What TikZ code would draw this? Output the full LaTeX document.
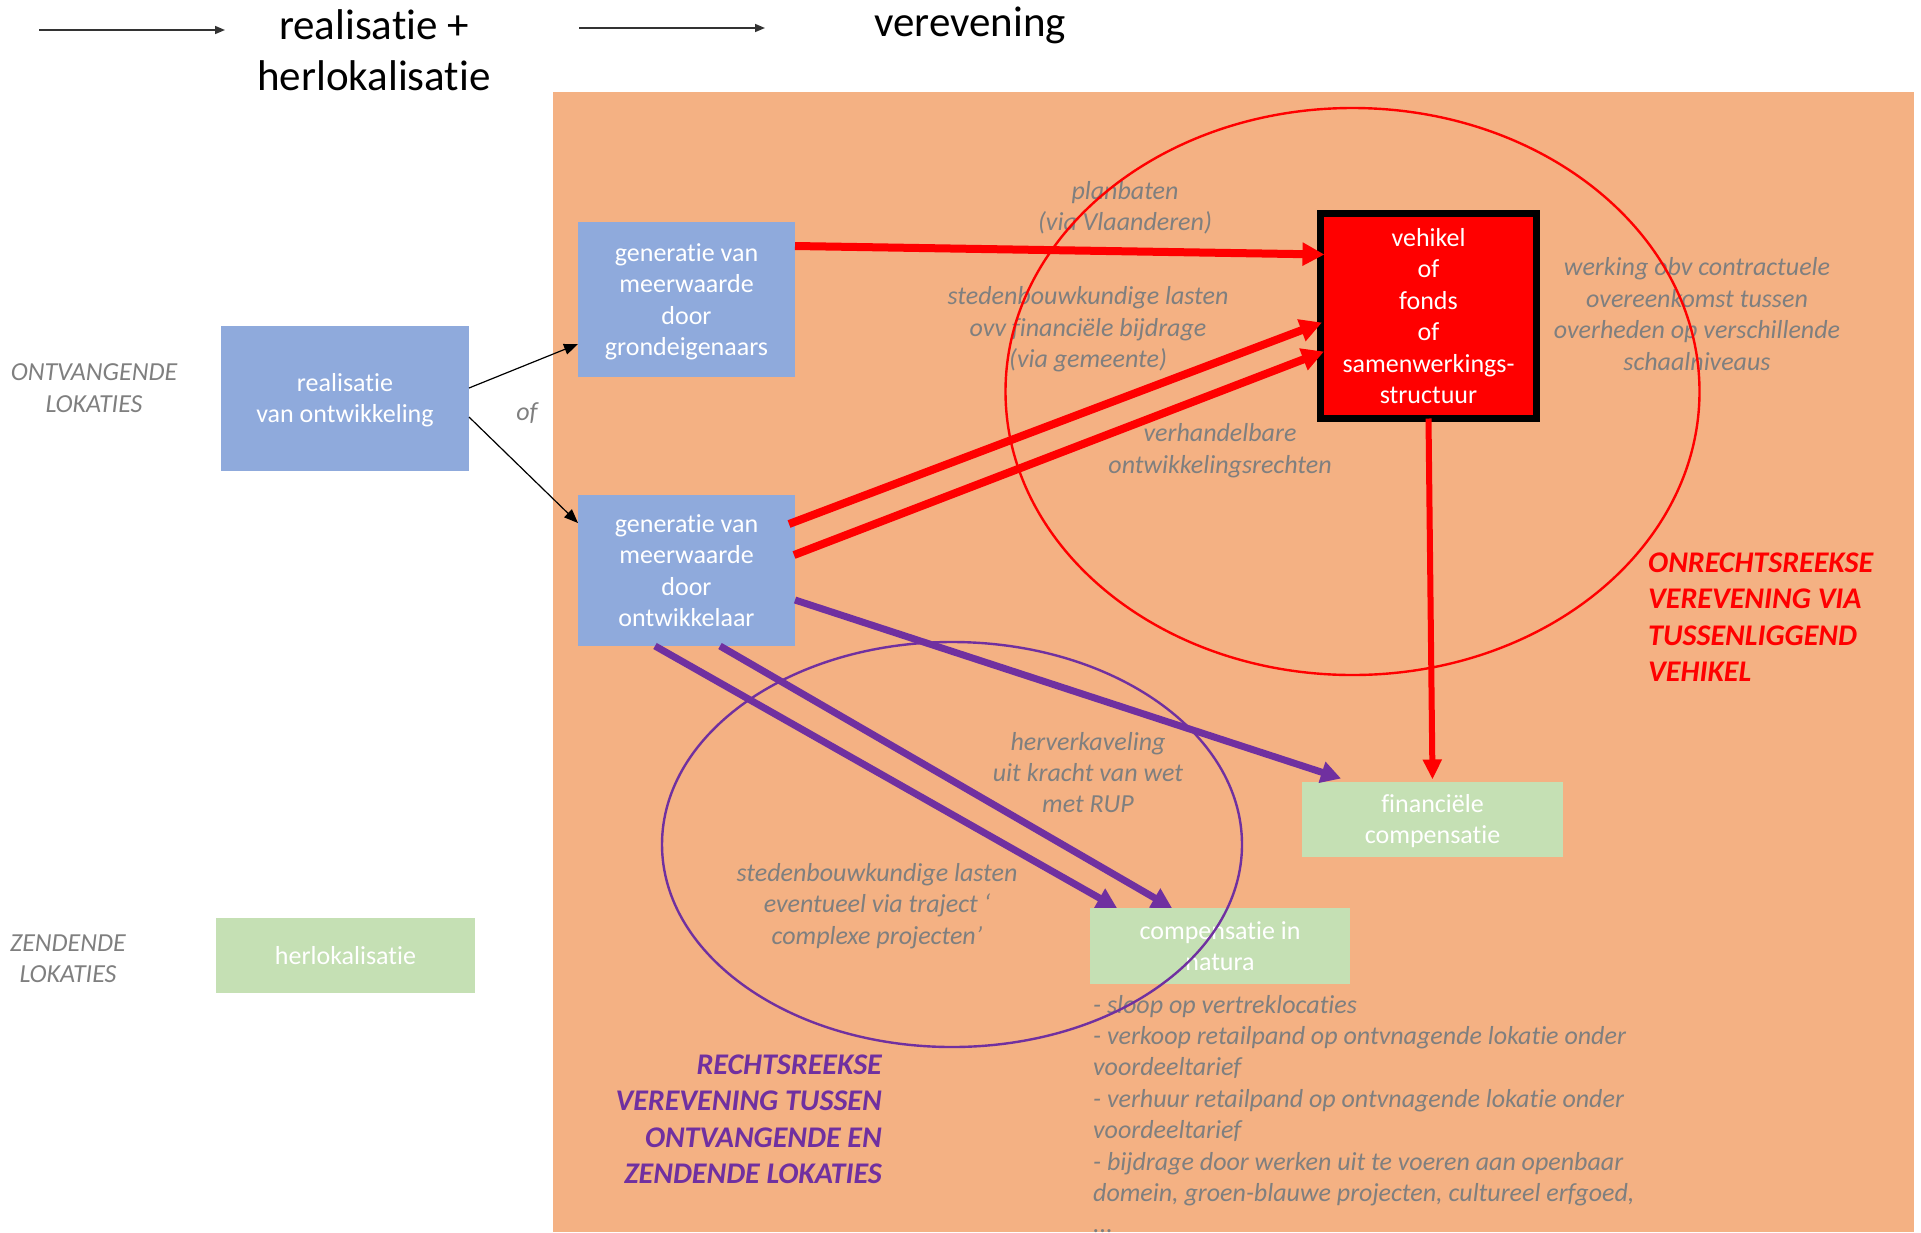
\documentclass[tikz,border=0pt]{standalone}
\usepackage{fontspec}
\setmainfont{Carlito}[Ligatures={NoCommon}]
\usetikzlibrary{arrows.meta,calc}

\definecolor{bgorange}{HTML}{F4B183}
\definecolor{boxblue}{HTML}{8FAADC}
\definecolor{boxgreen}{HTML}{C5E0B4}
\definecolor{vpurple}{HTML}{7030A0}
\definecolor{lblgrey}{HTML}{7F7F7F}

\tikzset{
  boxtext/.style={font=\fontsize{26}{31.4}\selectfont, text=white, align=center,
                  inner sep=0pt, outer sep=0pt, text depth=-4pt},
  bluebox/.style={boxtext, fill=boxblue},
  greenbox/.style={boxtext, fill=boxgreen},
  vehbox/.style={boxtext, fill=red, draw=black, line width=7pt},
  lbl/.style={font=\fontsize{26}{31.4}\selectfont\itshape, text=lblgrey,
              align=center, inner sep=0pt},
  heading/.style={font=\fontsize{43}{51}\selectfont, text=black, align=center, inner sep=0pt},
  bigred/.style={font=\fontsize{30}{36.5}\selectfont\bfseries\itshape, text=red,
                 align=left, inner sep=0pt},
  bigpurple/.style={font=\fontsize{30}{36.5}\selectfont\bfseries\itshape, text=vpurple,
                    align=right, inner sep=0pt},
  redarrow/.style={draw=red, line width=8pt, -{Triangle[length=22pt,width=22pt]}},
  redthin/.style={draw=red, line width=6pt, -{Triangle[length=20pt,width=18pt]}},
  purplearrow/.style={draw=vpurple, line width=7pt, -{Triangle[length=20pt,width=21pt]}},
  blackarrow/.style={draw=black, line width=1.2pt, -{Triangle[length=14pt,width=11pt]}},
  toparrow/.style={draw=black!80, line width=1.5pt, -{Triangle[length=10pt,width=8pt]}},
  zone/.style={line width=2.4pt},
}

\begin{document}
\begin{tikzpicture}[x=1pt,y=-1pt]
\useasboundingbox (0,0) rectangle (1921,1232);

% settlement area
\fill[bgorange] (553,92) rectangle (1914,1232);

% column headings
\coordinate (h1s) at (39,30);
\coordinate (h1e) at (225,30);
\coordinate (h2s) at (579,28);
\coordinate (h2e) at (765,28);
\draw[toparrow] (h1s) -- (h1e);
\draw[toparrow] (h2s) -- (h2e);
\node[heading] (hreal) at (374,50.5) {realisatie +\\herlokalisatie};
\node[heading] (hvere) at (970,25) {verevening};

% row labels
\node[lbl] (ontv) at (94,388) {ONTVANGENDE\\LOKATIES};
\node[lbl] (zend) at (68,959) {ZENDENDE\\LOKATIES};

% boxes
\node[bluebox, minimum width=248pt, minimum height=145pt] (real) at (345,398)
  {realisatie\\van ontwikkeling};
\node[bluebox, minimum width=217pt, minimum height=155pt] (grond) at (686.5,299.5)
  {generatie van\\meerwaarde\\door\\grondeigenaars};
\node[bluebox, minimum width=217pt, minimum height=151pt] (ontw) at (686.5,570.5)
  {generatie van\\meerwaarde\\door\\ontwikkelaar};
\node[vehbox, minimum width=216pt, minimum height=205pt] (veh) at (1428.5,316)
  {vehikel\\of\\fonds\\of\\samenwerkings-\\structuur};
\node[greenbox, minimum width=261pt, minimum height=75pt] (fin) at (1432.5,819)
  {financiële\\compensatie};
\node[greenbox, minimum width=260pt, minimum height=76pt] (nat) at (1220,946)
  {compensatie in\\natura};
\node[greenbox, minimum width=259pt, minimum height=75pt] (herl) at (345.5,955.5)
  {herlokalisatie};

% connector labels
\node[lbl] (of) at (527,413) {of};
\node[lbl] (lplan) at (1125,208) {planbaten\\(via Vlaanderen)};
\node[lbl] (lsted) at (1088,329.5) {stedenbouwkundige lasten\\ovv financiële bijdrage\\(via gemeente)};
\node[lbl] (lverh) at (1220,450.5) {verhandelbare\\ontwikkelingsrechten};
\node[lbl] (lwerk) at (1697,314) {werking obv contractuele\\overeenkomst tussen\\overheden op verschillende\\schaalniveaus};
\node[lbl] (lherv) at (1088,772.5) {herverkaveling\\uit kracht van wet\\met RUP};
\node[lbl] (lcomp) at (877,906) {stedenbouwkundige lasten\\eventueel via traject ‘\\complexe projecten’};
\node[lbl, align=left, anchor=west] (lnat) at (1093,1114)
  {- sloop op vertreklocaties\\
   - verkoop retailpand op ontvnagende lokatie onder\\
   voordeeltarief\\
   - verhuur retailpand op ontvnagende lokatie onder\\
   voordeeltarief\\
   - bijdrage door werken uit te voeren aan openbaar\\
   domein, groen-blauwe projecten, cultureel erfgoed,\\
   ...};

% route titles
\node[bigred, anchor=west] (tonr) at (1648,617) {ONRECHTSREEKSE\\VEREVENING VIA\\TUSSENLIGGEND\\VEHIKEL};
\node[bigpurple, anchor=east] (trecht) at (882,1119) {RECHTSREEKSE\\VEREVENING TUSSEN\\ONTVANGENDE EN\\ZENDENDE LOKATIES};

% zones
\draw[red, zone] (1352.5,391.5) ellipse [x radius=347pt, y radius=283.5pt];
\draw[vpurple, zone] (952,844.5) ellipse [x radius=290pt, y radius=202.5pt];

% realisation alternatives
\draw[blackarrow] ($(real.north east)+(0,62.5)$) -- ($(grond.north west)+(0,122)$);
\draw[blackarrow] ($(real.north east)+(0,91.5)$) -- ($(ontw.north west)+(0,28)$);

% indirect settlement through the vehicle
\draw[redarrow] ($(grond.north east)+(0,24)$) -- ($(veh.north west)+(4,41)$);
\draw[redarrow] ($(ontw.north east)+(-6,29)$) -- ($(veh.north west)+(1.5,109)$);
\draw[redarrow] ($(ontw.north east)+(-1,60)$) -- ($(veh.north west)+(3.5,138)$);
\draw[redthin] (veh.south) -- ($(fin.north)+(0,-2)$);

% direct settlement
\draw[purplearrow] ($(ontw.north east)+(0,105)$) -- ($(fin.north west)+(39,-3)$);
\draw[purplearrow] ($(ontw.south west)+(77,0)$) -- ($(nat.north west)+(27,0)$);
\draw[purplearrow] ($(ontw.south west)+(142,0)$) -- ($(nat.north west)+(82,0)$);
\end{tikzpicture}
\end{document}
